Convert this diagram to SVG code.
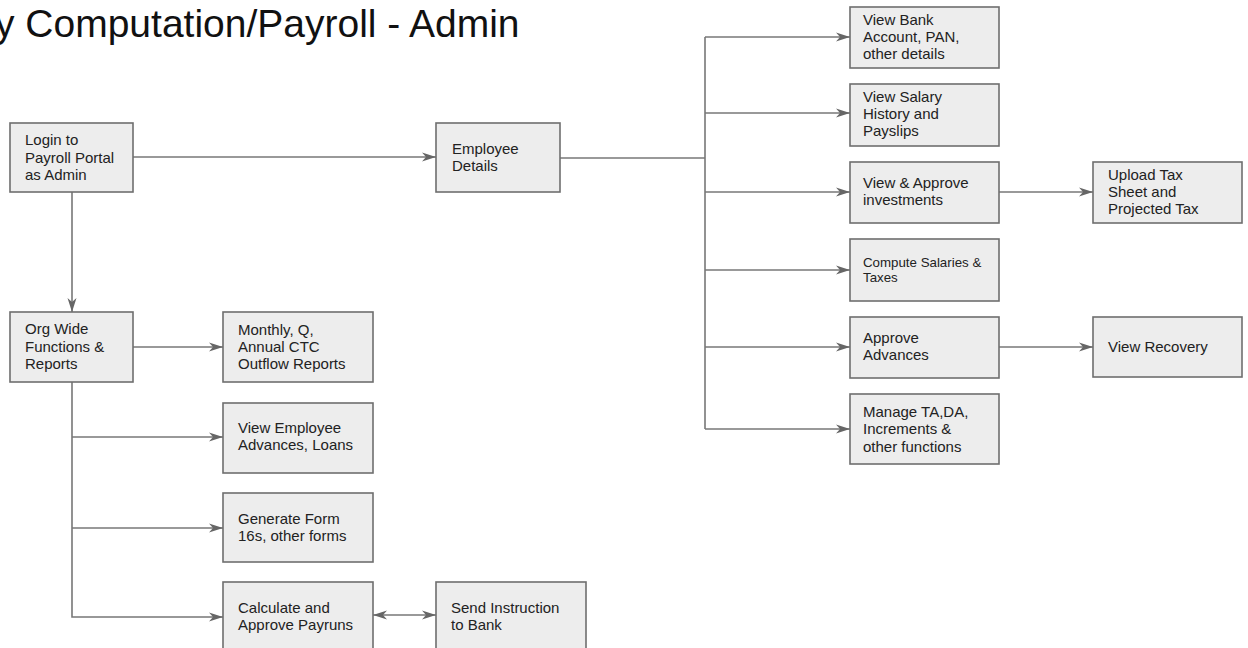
<svg xmlns="http://www.w3.org/2000/svg" width="1248" height="648" viewBox="0 0 1248 648">
  <style>
    .box rect { fill: #ededed; stroke: #6e6e6e; stroke-width: 1.6; }
    .box text { font-family: "Liberation Sans", Arial, sans-serif; font-size: 15px; fill: #222; }
    .box text.small { font-size: 13.3px; }
    .title { font-family: "Liberation Sans", Arial, sans-serif; font-size: 39px; fill: #111; }
    .conn path { fill: none; stroke: #777; stroke-width: 1.6; }
  </style>
  <defs>
    <marker id="arrow" markerUnits="userSpaceOnUse" markerWidth="15" markerHeight="11" viewBox="0 0 15 11" refX="14" refY="5.5" orient="auto-start-reverse">
      <path d="M0,1 L14,5.5 L0,10 L4,5.5 z" fill="#666"/>
    </marker>
  </defs>

  <rect width="1248" height="648" fill="#ffffff"/>

  <text class="title" x="-5" y="37">y Computation/Payroll - Admin</text>

  <g id="connectors" class="conn">
    <path d="M133,157 H436" marker-end="url(#arrow)"/>
    <path d="M72,192 V312" marker-end="url(#arrow)"/>
    <path d="M133,347 H223" marker-end="url(#arrow)"/>
    <path d="M72,382 V617 H223" marker-end="url(#arrow)"/>
    <path d="M72,437 H223" marker-end="url(#arrow)"/>
    <path d="M72,528 H223" marker-end="url(#arrow)"/>
    <path d="M373,615 H436" marker-start="url(#arrow)" marker-end="url(#arrow)"/>
    <path d="M560,158 H705"/>
    <path d="M705,37 V429"/>
    <path d="M705,37 H850" marker-end="url(#arrow)"/>
    <path d="M705,113 H850" marker-end="url(#arrow)"/>
    <path d="M705,192 H850" marker-end="url(#arrow)"/>
    <path d="M705,270 H850" marker-end="url(#arrow)"/>
    <path d="M705,347 H850" marker-end="url(#arrow)"/>
    <path d="M705,429 H850" marker-end="url(#arrow)"/>
    <path d="M999,192 H1093" marker-end="url(#arrow)"/>
    <path d="M999,347 H1093" marker-end="url(#arrow)"/>
  </g>

  <g id="login" class="box">
    <rect x="10" y="123" width="123" height="69"/>
    <text x="25" y="145">Login to</text>
    <text x="25" y="163">Payroll Portal</text>
    <text x="25" y="180">as Admin</text>
  </g>
  <g id="employee-details" class="box">
    <rect x="436" y="123" width="124" height="69"/>
    <text x="452" y="154">Employee</text>
    <text x="452" y="171">Details</text>
  </g>
  <g id="org-wide" class="box">
    <rect x="10" y="312" width="123" height="70"/>
    <text x="25" y="334">Org Wide</text>
    <text x="25" y="352">Functions &amp;</text>
    <text x="25" y="369">Reports</text>
  </g>
  <g id="ctc-reports" class="box">
    <rect x="223" y="312" width="150" height="70"/>
    <text x="238" y="335">Monthly, Q,</text>
    <text x="238" y="352">Annual CTC</text>
    <text x="238" y="369">Outflow Reports</text>
  </g>
  <g id="advances-loans" class="box">
    <rect x="223" y="403" width="150" height="70"/>
    <text x="238" y="433">View Employee</text>
    <text x="238" y="450">Advances, Loans</text>
  </g>
  <g id="form16" class="box">
    <rect x="223" y="493" width="150" height="69"/>
    <text x="238" y="524">Generate Form</text>
    <text x="238" y="541">16s, other forms</text>
  </g>
  <g id="payruns" class="box">
    <rect x="223" y="582" width="150" height="72"/>
    <text x="238" y="613">Calculate and</text>
    <text x="238" y="630">Approve Payruns</text>
  </g>
  <g id="bank-instruction" class="box">
    <rect x="436" y="582" width="150" height="72"/>
    <text x="451" y="613">Send Instruction</text>
    <text x="451" y="630">to Bank</text>
  </g>

  <g id="bank-account" class="box">
    <rect x="850" y="7" width="149" height="61"/>
    <text x="863" y="25">View Bank</text>
    <text x="863" y="42">Account, PAN,</text>
    <text x="863" y="59">other details</text>
  </g>
  <g id="salary-history" class="box">
    <rect x="850" y="84" width="149" height="62"/>
    <text x="863" y="102">View Salary</text>
    <text x="863" y="119">History and</text>
    <text x="863" y="136">Payslips</text>
  </g>
  <g id="investments" class="box">
    <rect x="850" y="162" width="149" height="61"/>
    <text x="863" y="188">View &amp; Approve</text>
    <text x="863" y="205">investments</text>
  </g>
  <g id="compute-salaries" class="box">
    <rect x="850" y="239" width="149" height="62"/>
    <text class="small" x="863" y="267">Compute Salaries &amp;</text>
    <text class="small" x="863" y="282">Taxes</text>
  </g>
  <g id="approve-advances" class="box">
    <rect x="850" y="317" width="149" height="61"/>
    <text x="863" y="343">Approve</text>
    <text x="863" y="360">Advances</text>
  </g>
  <g id="manage-ta-da" class="box">
    <rect x="850" y="394" width="149" height="70"/>
    <text x="863" y="417">Manage TA,DA,</text>
    <text x="863" y="434">Increments &amp;</text>
    <text x="863" y="452">other functions</text>
  </g>
  <g id="upload-tax" class="box">
    <rect x="1093" y="162" width="149" height="61"/>
    <text x="1108" y="180">Upload Tax</text>
    <text x="1108" y="197">Sheet and</text>
    <text x="1108" y="214">Projected Tax</text>
  </g>
  <g id="view-recovery" class="box">
    <rect x="1093" y="317" width="149" height="60"/>
    <text x="1108" y="352">View Recovery</text>
  </g>
</svg>
